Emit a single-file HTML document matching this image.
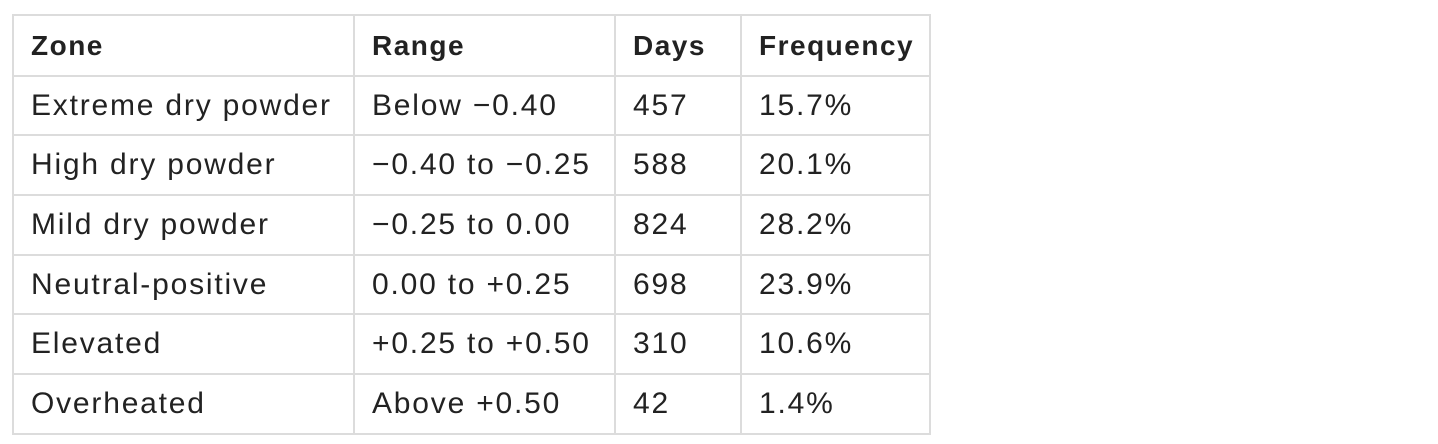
<!DOCTYPE html>
<html><head><style>
html,body{margin:0;padding:0;background:#fff;width:1438px;height:444px;overflow:hidden}
table{position:absolute;left:12px;top:14px;border-collapse:collapse;font-family:"Liberation Sans",sans-serif;color:#222;font-size:30px;letter-spacing:1.8px}
td,th{border:2px solid #dcdcdc;padding:0 0 0 17px;height:56px;text-align:left;white-space:nowrap;box-sizing:border-box}
th{font-weight:bold;font-size:28px;letter-spacing:1.5px}
</style></head><body>
<table>
<colgroup><col style="width:341px"><col style="width:261px"><col style="width:126px"><col style="width:189px"></colgroup>
<tr style="height:61px"><th>Zone</th><th>Range</th><th>Days</th><th>Frequency</th></tr>
<tr style="height:59px"><td>Extreme dry powder</td><td>Below −0.40</td><td>457</td><td>15.7%</td></tr>
<tr style="height:60px"><td>High dry powder</td><td>−0.40 to −0.25</td><td>588</td><td>20.1%</td></tr>
<tr style="height:60px"><td>Mild dry powder</td><td>−0.25 to 0.00</td><td>824</td><td>28.2%</td></tr>
<tr style="height:59px"><td>Neutral-positive</td><td>0.00 to +0.25</td><td>698</td><td>23.9%</td></tr>
<tr style="height:60px"><td>Elevated</td><td>+0.25 to +0.50</td><td>310</td><td>10.6%</td></tr>
<tr style="height:60px"><td>Overheated</td><td>Above +0.50</td><td>42</td><td>1.4%</td></tr>
</table>
</body></html>
